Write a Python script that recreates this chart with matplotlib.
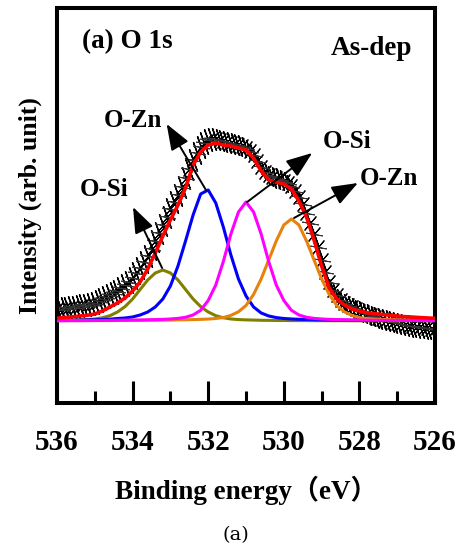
import numpy as np
import matplotlib
matplotlib.use("Agg")
from matplotlib import pyplot as plt

# binding energy grids (eV), high -> low as drawn
energy_fit = np.linspace(536.0, 526.0, 51)    # 0.2 eV step
energy_data = np.linspace(536.0, 526.0, 101)  # 0.1 eV step

# fitted components, intensity in arb. units
o_si_low = [0.6, 0.7, 0.9, 1.1, 1.4, 2.0, 3.2, 5.3, 9.0, 14.4,
            22, 31.5, 41, 48, 51, 48, 41, 31.5, 22, 14.4,
            9.0, 5.3, 3.2, 2.0, 1.4, 1.1, 0.9, 0.7, 0.6, 0.5,
            0.5, 0.4, 0.4, 0.4, 0.3, 0.3, 0.3, 0.3, 0.3, 0.2,
            0.2, 0.2, 0.2, 0.2, 0.2, 0.2, 0.2, 0.2, 0.2, 0.2, 0.2]
o_zn_high = [0.7, 0.8, 0.8, 0.9, 1.1, 1.2, 1.4, 1.8, 2.5, 3.0,
             4.0, 6.0, 9.0, 14, 22, 35, 55, 80, 106, 127,
             131, 118, 94, 66, 42, 25, 14, 8.0, 5.0, 3.4,
             2.5, 2.0, 1.7, 1.5, 1.3, 1.1, 1.0, 0.9, 0.8, 0.7,
             0.7, 0.6, 0.6, 0.5, 0.5, 0.5, 0.5, 0.4, 0.4, 0.4, 0.4]
o_si_high = [0.3, 0.3, 0.4, 0.4, 0.4, 0.5, 0.5, 0.6, 0.7, 0.8,
             0.9, 1.0, 1.2, 1.4, 1.6, 2.0, 2.6, 3.7, 6.0, 10.7,
             20.5, 36, 59.5, 87, 109, 119, 109, 87, 59.5, 36,
             20.5, 10.7, 6.0, 3.7, 2.6, 2.0, 1.6, 1.4, 1.2, 1.0,
             0.9, 0.8, 0.7, 0.7, 0.6, 0.6, 0.5, 0.5, 0.5, 0.4, 0.4]
o_zn_low = [0.3, 0.3, 0.3, 0.3, 0.4, 0.4, 0.4, 0.4, 0.5, 0.5,
            0.6, 0.6, 0.7, 0.7, 0.8, 0.9, 1.1, 1.2, 1.4, 1.6,
            1.9, 2.5, 3.4, 5.6, 9.2, 15.5, 26.5, 42, 61, 80,
            96, 102, 96, 80, 61, 42, 26.5, 15.5, 9.2, 5.6,
            3.4, 2.5, 1.9, 1.6, 1.4, 1.2, 1.1, 0.9, 0.8, 0.8, 0.7]
envelope = [2.7, 3.5, 4.2, 5.0, 5.7, 7.0, 10, 14, 18, 23,
            30, 39, 52, 68, 85, 101, 116, 133, 156, 169,
            176, 178, 176, 175, 173, 171, 163, 150, 141, 139,
            137, 132, 120, 104, 81, 55, 33, 22, 16, 12,
            10, 8.3, 7.3, 6.5, 5.8, 5.0, 4.3, 3.9, 3.4, 3.0, 2.7]

# measured spectrum
measured = [12, 12, 13, 13, 14, 14, 15, 16, 16, 17,
            18, 20, 22, 24, 26, 28, 30, 33, 36, 39,
            43, 48, 53, 59, 65, 72, 80, 88, 96, 104,
            112, 119, 126, 134, 143, 152, 161, 168, 174, 178,
            181, 182, 182, 181, 180, 179, 178, 177, 176, 175,
            173, 170, 166, 160, 154, 149, 146, 144, 143, 142,
            140, 138, 135, 130, 124, 117, 108, 98, 87, 74,
            61, 49, 39, 31, 26, 21, 18, 16, 14, 12,
            10, 9, 7, 6, 4, 3, 2, 1, 0, -1,
            -2, -3, -4, -5, -5, -6, -6, -7, -7, -8, -8]

# peak labels: text, text position, arrow tail
labels = ["O-Zn", "O-Si", "O-Si", "O-Zn"]
label_xy = [(533.99, 201), (534.76, 131), (528.33, 179), (527.22, 142)]
arrow_tip = [(533.10, 197), (533.99, 114), (529.25, 168), (528.04, 138)]
arrow_tail = [(532.06, 131), (533.22, 53), (530.97, 119), (529.73, 103)]

serif = ["Liberation Serif", "DejaVu Serif"]
plt.rcParams['font.family'] = serif

fig = plt.figure(figsize=(4.62, 5.49), dpi=100)
ax = fig.add_axes([0.1234, 0.266, 0.8182, 0.7194])

# measured data as a hatched band
ax.plot(energy_data, measured, ls='none', marker=(2, 2, 20), ms=17,
        mec='black', mew=1.0, zorder=2)
ax.plot(energy_data, measured, ls='none', marker=(2, 2, -40), ms=13,
        mec='black', mew=0.8, zorder=2)
ax.plot(energy_data, measured, ls='none', marker=(2, 2, 80), ms=12,
        mec='#333333', mew=0.7, zorder=2)

ax.plot(energy_fit, o_si_low, color='#808000', lw=2.2, zorder=3)
ax.plot(energy_fit, o_zn_high, color='#0000ff', lw=2.2, zorder=3)
ax.plot(energy_fit, o_zn_low, color='#e6820e', lw=2.2, zorder=3)
ax.plot(energy_fit, o_si_high, color='#ff00ff', lw=2.2, zorder=3)
ax.plot(energy_fit, envelope, color='#ff0000', lw=2.6, zorder=4)

for name, txt, tip, tail in zip(labels, label_xy, arrow_tip, arrow_tail):
    ax.annotate('', xy=tip, xytext=tail,
                arrowprops=dict(arrowstyle='-|>,head_length=1.6,head_width=0.6',
                                color='black', lw=1.4, shrinkA=0, shrinkB=0),
                zorder=5)
    ax.text(txt[0], txt[1], name, fontsize=18, fontweight='bold',
            ha='center', va='center', zorder=6)

ax.text(534.15, 279, "(a) O 1s", fontsize=19.5, fontweight='bold',
        ha='center', va='center')
ax.text(527.67, 273, "As-dep", fontsize=19.5, fontweight='bold',
        ha='center', va='center')

ax.set_xlim(536, 526)
ax.set_ylim(-82, 313)
ax.set_xticks([536, 534, 532, 530, 528, 526])
ax.set_xticks([535, 533, 531, 529, 527], minor=True)
ax.set_yticks([])
ax.tick_params(axis='x', which='major', direction='in', length=16, width=2.2,
               pad=19, labelsize=21)
ax.tick_params(axis='x', which='minor', direction='in', length=8.5, width=2.2)
for lab in ax.get_xticklabels():
    lab.set_fontweight('bold')
for sp in ax.spines.values():
    sp.set_linewidth(2.9)

ax.set_xlabel("Binding energy（eV）", fontsize=19.5, fontweight='bold',
              family=["Liberation Serif", "Noto Sans CJK SC"], labelpad=14)
ax.set_ylabel("Intensity (arb. unit)", fontsize=18.5, fontweight='bold', labelpad=11)

fig.text(0.511, 0.026, "(a)", fontsize=14, ha='center', va='center',
         family=["DejaVu Serif"])

fig.savefig("out.png", dpi=100, facecolor='white')
